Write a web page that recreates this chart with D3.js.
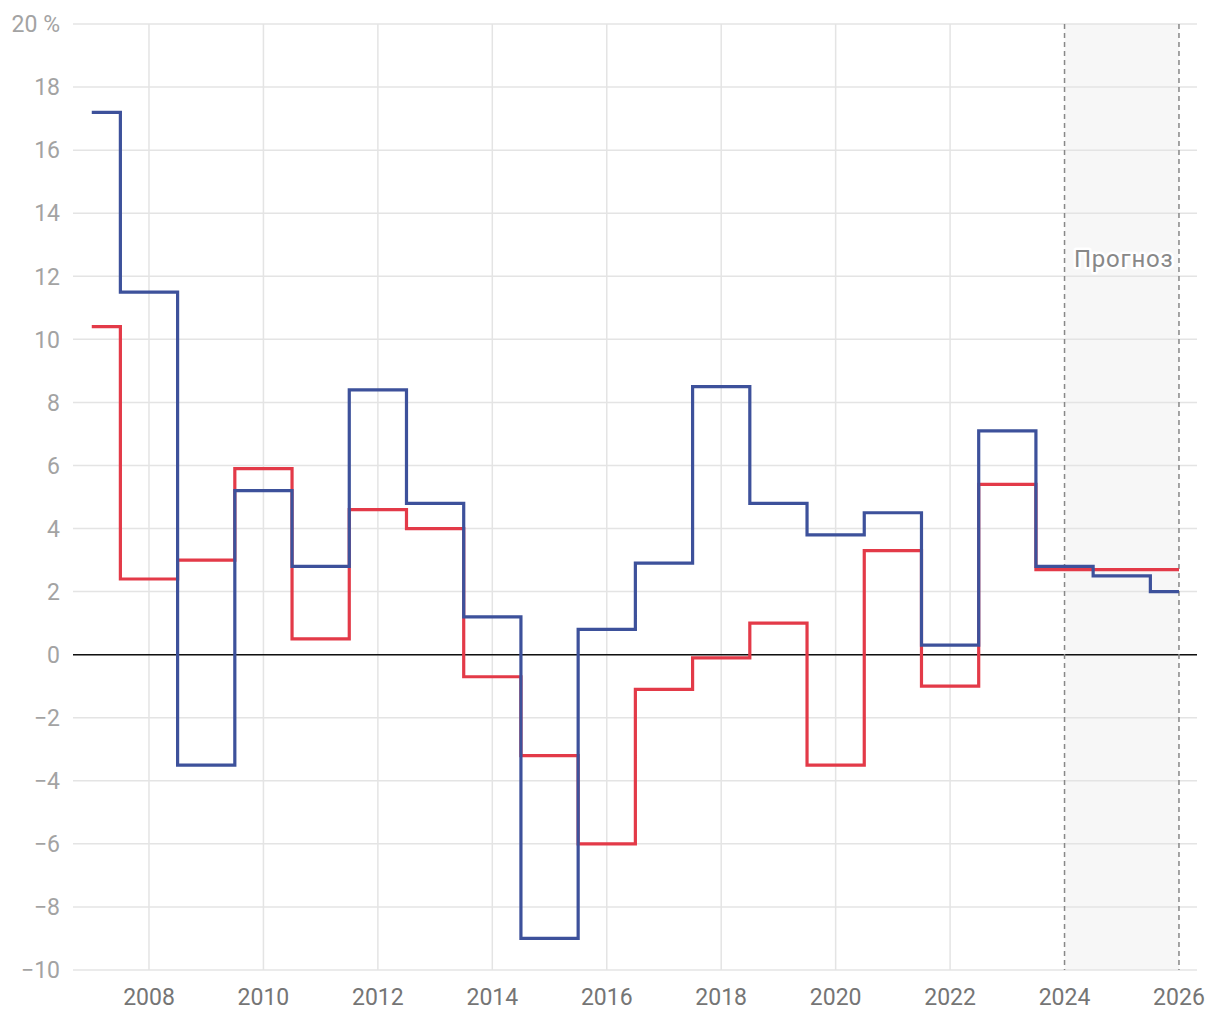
<!DOCTYPE html>
<html>
<head>
<meta charset="utf-8">
<script src="https://cdn.jsdelivr.net/npm/d3@7"></script>
<style>
  body { margin: 0; background: #fff; }
  text { font-family: Roboto, "Noto Sans", sans-serif; }
</style>
</head>
<body>
<div class="chart"></div>
<script>
// values per year, 2007..2026
const years = d3.range(2007, 2027);
const blueValues = [17.2, 11.5, -3.5, 5.2, 2.8, 8.4, 4.8, 1.2, -9.0, 0.8, 2.9, 8.5, 4.8, 3.8, 4.5, 0.3, 7.1, 2.8, 2.5, 2.0];
const redValues = [10.4, 2.4, 3.0, 5.9, 0.5, 4.6, 4.0, -0.7, -3.2, -6.0, -1.1, -0.1, 1.0, -3.5, 3.3, -1.0, 5.4, 2.7, 2.7, 2.7];
const xTicks = [2008, 2010, 2012, 2014, 2016, 2018, 2020, 2022, 2024, 2026];
const yTicks = [-10, -8, -6, -4, -2, 0, 2, 4, 6, 8, 10, 12, 14, 16, 18, 20];
const forecast = [2024, 2026];
const forecastLabel = "Прогноз";

const width = 1220, height = 1020;
const margin = { top: 24, right: 23, bottom: 50, left: 73 };

const svg = d3.select('.chart').append('svg')
  .attr('width', width)
  .attr('height', height);

const x = d3.scaleLinear()
  .domain([2006.672, 2026.315])
  .range([margin.left, width - margin.right]);

const y = d3.scaleLinear()
  .domain([-10, 20])
  .range([height - margin.bottom, margin.top]);

// forecast band
svg.append('rect')
  .attr('x', x(forecast[0]))
  .attr('y', y(20))
  .attr('width', x(forecast[1]) - x(forecast[0]))
  .attr('height', y(-10) - y(20))
  .attr('fill', '#f7f7f7');

// horizontal grid
svg.append('g')
  .selectAll('line')
  .data(yTicks)
  .enter().append('line')
  .attr('x1', margin.left)
  .attr('x2', width - margin.right)
  .attr('y1', d => y(d))
  .attr('y2', d => y(d))
  .attr('stroke', '#e4e4e4')
  .attr('stroke-width', 1.5);

// vertical grid
svg.append('g')
  .selectAll('line')
  .data(xTicks.filter(d => forecast.indexOf(d) < 0))
  .enter().append('line')
  .attr('x1', d => x(d))
  .attr('x2', d => x(d))
  .attr('y1', y(20))
  .attr('y2', y(-10))
  .attr('stroke', '#e4e4e4')
  .attr('stroke-width', 1.5);

// y labels
svg.append('g')
  .selectAll('text')
  .data(yTicks)
  .enter().append('text')
  .attr('x', 60)
  .attr('y', d => y(d))
  .attr('dy', '0.36em')
  .attr('text-anchor', 'end')
  .attr('font-size', 23)
  .attr('fill', '#a3a3a3')
  .text(d => (d < 0 ? '\u2212' + Math.abs(d) : d) + (d === 20 ? ' %' : ''));

// x labels
svg.append('g')
  .selectAll('text')
  .data(xTicks)
  .enter().append('text')
  .attr('x', d => x(d))
  .attr('y', 1005)
  .attr('text-anchor', 'middle')
  .attr('font-size', 23)
  .attr('fill', '#757575')
  .text(d => d);

// zero line
svg.append('line')
  .attr('x1', margin.left)
  .attr('x2', width - margin.right)
  .attr('y1', y(0))
  .attr('y2', y(0))
  .attr('stroke', '#111')
  .attr('stroke-width', 1.5);

// forecast dashed borders
svg.append('g')
  .selectAll('line')
  .data(forecast)
  .enter().append('line')
  .attr('x1', d => x(d))
  .attr('x2', d => x(d))
  .attr('y1', y(20))
  .attr('y2', y(-10))
  .attr('stroke', '#888')
  .attr('stroke-width', 1.5)
  .attr('stroke-dasharray', '5,4');

svg.append('text')
  .attr('x', (x(forecast[0]) + x(forecast[1])) / 2 + 2)
  .attr('y', 267)
  .attr('text-anchor', 'middle')
  .attr('font-size', 24)
  .attr('letter-spacing', 0.8)
  .attr('fill', '#888')
  .attr('stroke', '#fff')
  .attr('stroke-width', 5)
  .attr('stroke-linejoin', 'round')
  .attr('paint-order', 'stroke')
  .text(forecastLabel);

const line = d3.line()
  .curve(d3.curveStep)
  .x(d => x(d[0]))
  .y(d => y(d[1]));

svg.append('path')
  .datum(years.map((yr, i) => [yr, redValues[i]]))
  .attr('d', line)
  .attr('fill', 'none')
  .attr('stroke', '#e33a48')
  .attr('stroke-width', 3.2);

svg.append('path')
  .datum(years.map((yr, i) => [yr, blueValues[i]]))
  .attr('d', line)
  .attr('fill', 'none')
  .attr('stroke', '#3d519b')
  .attr('stroke-width', 3.2);
</script>
</body>
</html>
